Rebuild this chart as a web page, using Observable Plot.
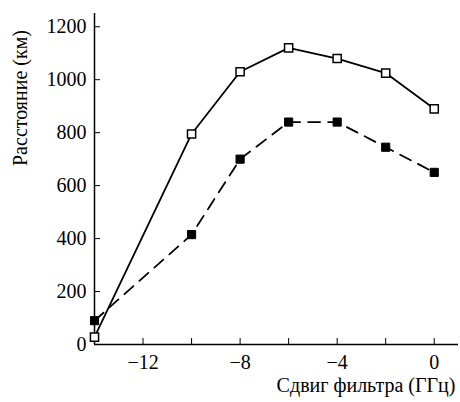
<!DOCTYPE html>
<html><head><meta charset="utf-8">
<script src="https://cdn.jsdelivr.net/npm/d3@7"></script>
<script src="https://cdn.jsdelivr.net/npm/@observablehq/plot@0.6"></script>
<style>body{margin:0;background:#fff}</style>
</head><body><div id="chart"></div>
<script>
const shifts = [-14, -10, -8, -6, -4, -2, 0];
const openSeries = [28, 795, 1030, 1120, 1080, 1025, 890];
const filledSeries = [90, 415, 700, 840, 840, 745, 650];
const xTicks = [-14, -12, -10, -8, -6, -4, -2, 0];
const xTickLabels = [-12, -8, -4, 0];
const yTicks = [0, 200, 400, 600, 800, 1000, 1200];

const openData = shifts.map((x, i) => ({x, y: openSeries[i]}));
const filledData = shifts.map((x, i) => ({x, y: filledSeries[i]}));
const fmt = d => d < 0 ? "\u2212" + Math.abs(d) : String(d);
const FF = "'Liberation Serif', 'Times New Roman', serif";

const chart = Plot.plot({
  width: 460, height: 402,
  marginLeft: 94, marginRight: 2, marginTop: 13, marginBottom: 58,
  style: `font-family: ${FF}; font-size: 20px; color: #000; background: #fff;`,
  x: {domain: [-14, 1]},
  y: {domain: [0, 1250]},
  marks: [
    Plot.ruleX([-14], {stroke: "#000", strokeWidth: 1.5}),
    Plot.ruleY([0], {stroke: "#000", strokeWidth: 1.5}),
    Plot.axisY(yTicks, {tickSize: -6, tickPadding: 14, tickFormat: fmt, stroke: "#000", fill: "#000", fontSize: 20, label: null}),
    Plot.axisX(xTicks, {tickSize: -6, tickFormat: () => "", stroke: "#000", label: null}),
    Plot.axisX(xTickLabels, {tickSize: 0, tickPadding: 10, tickFormat: fmt, fill: "#000", fontSize: 20, label: null}),
    Plot.text(["Расстояние (км)"], {frameAnchor: "left", dx: -74, dy: -13, rotate: -90, fontSize: 20, fill: "#000"}),
    Plot.text(["Сдвиг фильтра (ГГц)"], {frameAnchor: "bottom-right", dy: 47, dx: -3, textAnchor: "end", fontSize: 20, fill: "#000"}),
    Plot.line(filledData, {x: "x", y: "y", stroke: "#000", strokeWidth: 1.8, strokeDasharray: "12,8"}),
    Plot.line(openData, {x: "x", y: "y", stroke: "#000", strokeWidth: 1.8}),
    Plot.dot(filledData, {x: "x", y: "y", symbol: "square", r: 4.6, fill: "#000", stroke: "#000", strokeWidth: 1}),
    Plot.dot(openData, {x: "x", y: "y", symbol: "square", r: 4.6, fill: "#fff", stroke: "#000", strokeWidth: 1.5})
  ]
});
d3.select(chart).selectAll("style").remove();
d3.select(chart).selectAll("text").attr("font-family", null).attr("style", `font-family: ${FF}`);
d3.select(chart).selectAll("g").attr("font-family", null);
document.getElementById("chart").appendChild(chart);
</script></body></html>
